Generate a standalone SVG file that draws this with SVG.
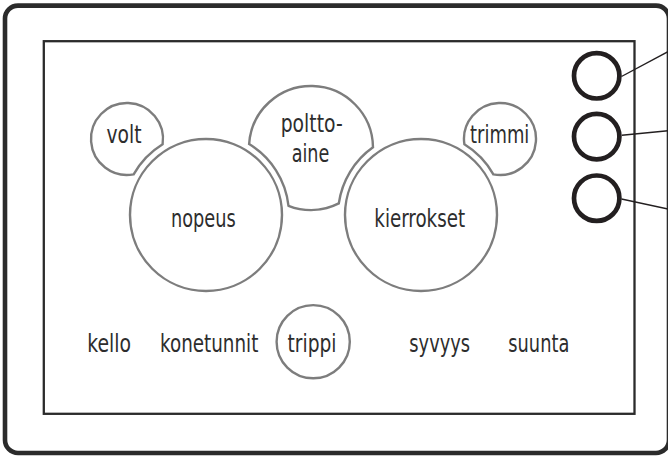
<svg xmlns="http://www.w3.org/2000/svg" width="668" height="456" viewBox="0 0 668 456">
<style>
.frame{fill:none;stroke:#2b2b2b}
.gauge{fill:#fff;stroke:#7d7d7d;stroke-width:2.4}
.btn{fill:none;stroke:#231f20;stroke-width:4.7}
.lead{stroke:#231f20;stroke-width:1.4;fill:none}
text{font-family:"DejaVu Sans","Liberation Sans",sans-serif;font-stretch:condensed;font-size:24px;fill:#2d2d2d;text-anchor:middle}
</style>
<rect width="668" height="456" fill="#fff"/>
<g id="frame">
<rect class="frame" x="5" y="5.6" width="664" height="447.4" rx="13" stroke-width="4.6"/>
<rect class="frame" x="43.8" y="41.2" width="590.7" height="372.6" stroke-width="2.3"/>
</g>
<g id="volt">
<path class="gauge" d="M162.62,144.26 A36,36 0 1 0 133.64,174.38 A83,83 0 0 1 162.62,144.26 Z"/>
<text x="124" y="142.7" textLength="35" lengthAdjust="spacingAndGlyphs">volt</text>
</g>
<g id="polttoaine">
<path class="gauge" d="M249.12,144.07 A62,62 0 0 1 372.99,147.30 A83,83 0 0 0 338.81,203.40 A62,62 0 0 1 288.50,205.77 A83,83 0 0 0 249.12,144.07 Z"/>
<text x="311.7" y="131.7" textLength="62" lengthAdjust="spacingAndGlyphs">poltto-</text>
<text x="310.5" y="161.7" textLength="37.6" lengthAdjust="spacingAndGlyphs">aine</text>
</g>
<g id="trimmi">
<path class="gauge" d="M464.38,144.26 A36,36 0 1 1 493.36,174.38 A83,83 0 0 0 464.38,144.26 Z"/>
<text x="499.7" y="142.7" textLength="59.3" lengthAdjust="spacingAndGlyphs">trimmi</text>
</g>
<g id="nopeus">
<circle class="gauge" cx="206" cy="215" r="76"/>
<text x="203.3" y="226.7" textLength="64.7" lengthAdjust="spacingAndGlyphs">nopeus</text>
</g>
<g id="kierrokset">
<circle class="gauge" cx="421" cy="215" r="76"/>
<text x="419.7" y="226.7" textLength="90.7" lengthAdjust="spacingAndGlyphs">kierrokset</text>
</g>
<g id="trippi">
<circle class="gauge" cx="313.2" cy="341.7" r="36.6"/>
<text x="312" y="351.7" textLength="49" lengthAdjust="spacingAndGlyphs">trippi</text>
</g>
<g id="kello"><text x="109.2" y="351.7" textLength="43.7" lengthAdjust="spacingAndGlyphs">kello</text></g>
<g id="konetunnit"><text x="209.2" y="351.7" textLength="98.3" lengthAdjust="spacingAndGlyphs">konetunnit</text></g>
<g id="syvyys"><text x="439.7" y="351.7" textLength="60.7" lengthAdjust="spacingAndGlyphs">syvyys</text></g>
<g id="suunta"><text x="538.8" y="351.7" textLength="61" lengthAdjust="spacingAndGlyphs">suunta</text></g>
<g id="button1"><circle class="btn" cx="596.7" cy="75.8" r="22.7"/></g>
<g id="button2"><circle class="btn" cx="596.7" cy="136.6" r="22.7"/></g>
<g id="button3"><circle class="btn" cx="596.7" cy="198.2" r="22.7"/></g>
<g id="connectors">
<line class="lead" x1="621.5" y1="76.5" x2="668" y2="51.7"/>
<line class="lead" x1="621.8" y1="135.3" x2="668" y2="130.7"/>
<line class="lead" x1="621.5" y1="199" x2="668" y2="209"/>
</g>
</svg>
